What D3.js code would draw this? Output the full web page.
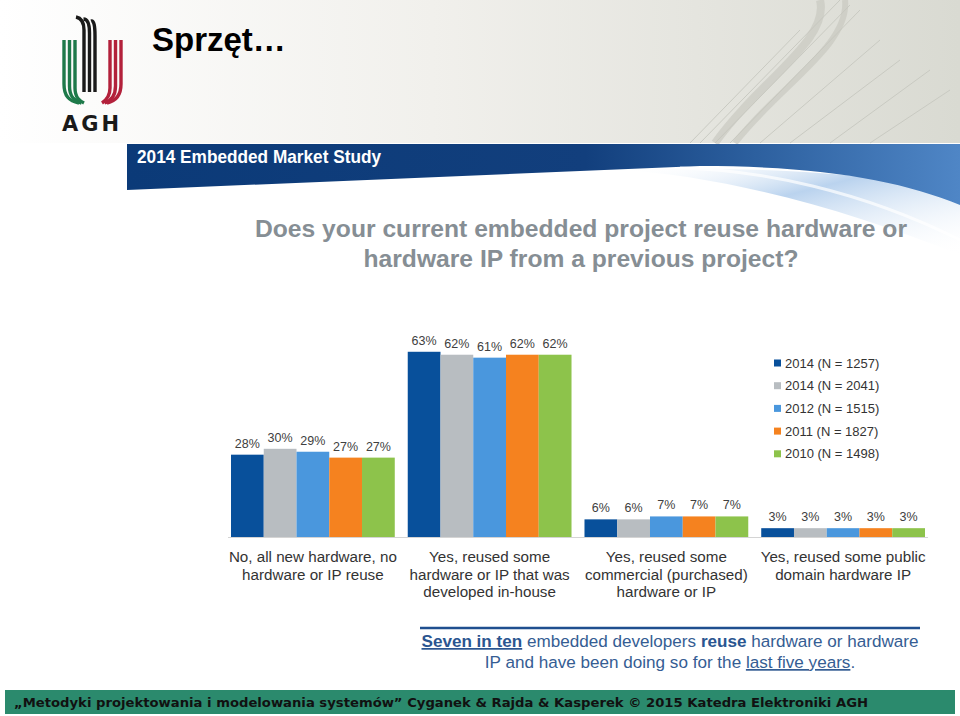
<!DOCTYPE html>
<html>
<head>
<meta charset="utf-8">
<script src="https://cdn.jsdelivr.net/npm/d3@7"></script>
<style>
  html, body { margin: 0; padding: 0; background: #ffffff; }
  svg { display: block; }
</style>
</head>
<body>
<svg id="chart" width="960" height="716"></svg>
<script>
// ---------- DATA ----------
const categories = [
  "No, all new hardware, no|hardware or IP reuse",
  "Yes, reused some|hardware or IP that was|developed in-house",
  "Yes, reused some|commercial (purchased)|hardware or IP",
  "Yes, reused some public|domain hardware IP"
];
const seriesNames = ["2014 (N = 1257)", "2014 (N = 2041)", "2012 (N = 1515)", "2011 (N = 1827)", "2010 (N = 1498)"];
const seriesColors = ["#08509b", "#b8bdc1", "#4a97dd", "#f5821f", "#8dc34b"];
const values2014a = [28, 63, 6, 3];
const values2014b = [30, 62, 6, 3];
const values2012 = [29, 61, 7, 3];
const values2011 = [27, 62, 7, 3];
const values2010 = [27, 62, 7, 3];
const seriesValues = [values2014a, values2014b, values2012, values2011, values2010];

const slideTitle = "Sprzęt…";
const bannerTitle = "2014 Embedded Market Study";
const questionLines = ["Does your current embedded project reuse hardware or", "hardware IP from a previous project?"];
const footerText = "„Metodyki projektowania i modelowania systemów”  Cyganek & Rajda & Kasperek © 2015 Katedra Elektroniki AGH";

// ---------- SETUP ----------
const svg = d3.select("#chart");
const defs = svg.append("defs");

const gTop = defs.append("linearGradient").attr("id", "topGrad").attr("x1", 0).attr("x2", 1).attr("y1", 0).attr("y2", 0);
gTop.append("stop").attr("offset", "0%").attr("stop-color", "#ffffff");
gTop.append("stop").attr("offset", "45%").attr("stop-color", "#f1f0ec");
gTop.append("stop").attr("offset", "100%").attr("stop-color", "#d9dad2");

const gBand = defs.append("linearGradient").attr("id", "bandGrad").attr("x1", 0).attr("x2", 1).attr("y1", 0).attr("y2", 0);
gBand.append("stop").attr("offset", "0%").attr("stop-color", "#0b3a78");
gBand.append("stop").attr("offset", "55%").attr("stop-color", "#123f7d");
gBand.append("stop").attr("offset", "75%").attr("stop-color", "#2c5f9e");
gBand.append("stop").attr("offset", "100%").attr("stop-color", "#4f86c6");

const gSw = defs.append("linearGradient").attr("id", "swGrad").attr("x1", 0).attr("x2", 1).attr("y1", 0).attr("y2", 1);
gSw.append("stop").attr("offset", "0%").attr("stop-color", "#ffffff").attr("stop-opacity", 0);
gSw.append("stop").attr("offset", "40%").attr("stop-color", "#a9c8ea").attr("stop-opacity", 0.8);
gSw.append("stop").attr("offset", "100%").attr("stop-color", "#ffffff").attr("stop-opacity", 0);

svg.append("rect").attr("x", 0).attr("y", 0).attr("width", 960).attr("height", 716).attr("fill", "#ffffff");
svg.append("rect").attr("x", 0).attr("y", 0).attr("width", 960).attr("height", 143).attr("fill", "url(#topGrad)");

// faint decorative lines top-right
const deco = svg.append("g").attr("stroke", "#c9cac2").attr("fill", "none");
[[700,143,840,0],[715,143,850,5],[730,143,860,10],[760,143,880,40],[790,143,900,60],[830,143,930,70],[870,143,950,90],[690,143,800,30]].forEach(d => {
  deco.append("line").attr("x1", d[0]).attr("y1", d[1]).attr("x2", d[2]).attr("y2", d[3]).attr("stroke-width", 1);
});
deco.append("path").attr("d", "M715,143 C760,80 830,40 820,0").attr("stroke", "#c4c5bd").attr("stroke-width", 8).attr("opacity", 0.6);
deco.append("path").attr("d", "M735,143 C780,85 850,45 845,0").attr("stroke", "#c4c5bd").attr("stroke-width", 6).attr("opacity", 0.6);

// ---------- LOGO ----------
const logo = svg.append("g").attr("fill", "none").attr("stroke-width", 3.4).attr("stroke-linecap", "butt");
[64, 69.5, 75].forEach((x, i) => {
  logo.append("path").attr("d", `M${x},40 V${84 + i*2} C${x},${96 + i} ${x+5},${101} ${x + 15 - i*3},${103}`).attr("stroke", "#1e7a4a");
});
[110, 115.5, 121].forEach((x, i) => {
  logo.append("path").attr("d", `M${x},40 V${88 - i*2} C${x},${97 - i} ${x-5},${101} ${x - 8 - i*3},${103}`).attr("stroke", "#b3213b");
});
[84, 89.5, 95].forEach((x, i) => {
  logo.append("path").attr("d", `M${x},92 V${30 + i*3} C${x},${22 + i*2} ${x-3 + i},${18 + i} ${x-8 + i*2},${17 + i*2}`).attr("stroke", "#1a1a1a");
});
svg.append("text").attr("x", 92).attr("y", 131).attr("text-anchor", "middle")
  .attr("font-family", "'DejaVu Sans', Verdana, sans-serif").attr("font-weight", "bold").attr("font-size", 21)
  .attr("letter-spacing", 3).attr("fill", "#1a1a1a").text("AGH");

svg.append("text").attr("x", 152).attr("y", 51)
  .attr("font-family", "'Liberation Sans', Arial, sans-serif").attr("font-weight", "bold").attr("font-size", 33)
  .attr("fill", "#000").text(slideTitle);

// ---------- BANNER ----------
svg.append("path").attr("d", "M620,170 C720,175 850,210 960,255 L960,190 C880,175 760,165 620,170 Z").attr("fill", "url(#swGrad)");
svg.append("path").attr("d", "M127,144 H960 V205 C900,180 820,166 700,166 L127,190 Z").attr("fill", "url(#bandGrad)");
svg.append("path").attr("d", "M680,168 C760,170 860,190 960,240").attr("stroke", "#ffffff").attr("stroke-width", 3).attr("fill", "none").attr("opacity", 0.7);
svg.append("text").attr("x", 137).attr("y", 163)
  .attr("font-family", "'Liberation Sans Narrow', 'Arial Narrow', 'Liberation Sans', sans-serif").attr("font-weight", "bold").attr("font-size", 18.5)
  .attr("textLength", 244).attr("lengthAdjust", "spacingAndGlyphs")
  .attr("fill", "#ffffff").text(bannerTitle);

// question
const qLens = [652, 435];
svg.selectAll("text.q").data(questionLines).enter().append("text").attr("class", "q")
  .attr("x", 581).attr("y", (d, i) => 237 + i * 30).attr("text-anchor", "middle")
  .attr("font-family", "'Liberation Sans', Arial, sans-serif").attr("font-weight", "bold").attr("font-size", 24)
  .attr("textLength", (d, i) => qLens[i]).attr("lengthAdjust", "spacingAndGlyphs")
  .attr("fill", "#868e94").text(d => d);

// ---------- CHART ----------
const x0 = d3.scaleBand().domain(categories).range([231, 925]).paddingInner(0.0734).paddingOuter(0);
const x1 = d3.scaleBand().domain(seriesNames).range([0, x0.bandwidth()]).padding(0);
const y = d3.scaleLinear().domain([0, 100]).range([537, 243]);

const axisG = svg.append("g").attr("transform", `translate(0,${y(0) + 0.5})`)
  .call(d3.axisBottom(x0).tickSize(0).tickFormat("").tickSizeOuter(0));
axisG.select(".domain").attr("stroke", "#d4d4d4").attr("stroke-width", 1).attr("d", "M228,0H928");

const groups = svg.append("g").selectAll("g").data(categories).enter().append("g")
  .attr("transform", d => `translate(${x0(d)},0)`);

groups.selectAll("rect").data((c, ci) => seriesNames.map((s, si) => ({ s, si, v: seriesValues[si][ci] })))
  .enter().append("rect")
  .attr("x", d => x1(d.s)).attr("width", x1.bandwidth())
  .attr("y", d => y(d.v)).attr("height", d => y(0) - y(d.v))
  .attr("fill", d => seriesColors[d.si]);

groups.selectAll("text.val").data((c, ci) => seriesNames.map((s, si) => ({ s, si, v: seriesValues[si][ci] })))
  .enter().append("text").attr("class", "val")
  .attr("x", d => x1(d.s) + x1.bandwidth() / 2).attr("y", d => y(d.v) - 7)
  .attr("text-anchor", "middle")
  .attr("font-family", "'Liberation Sans', Arial, sans-serif").attr("font-size", 12.5)
  .attr("fill", "#404040").text(d => d.v + "%");

const catG = svg.append("g");
categories.forEach(c => {
  const t = catG.append("text").attr("text-anchor", "middle")
    .attr("font-family", "'Liberation Sans', Arial, sans-serif").attr("font-size", 15.2).attr("fill", "#333");
  c.split("|").forEach((line, i) => {
    t.append("tspan").attr("x", x0(c) + x0.bandwidth() / 2).attr("y", 562 + i * 17.5).text(line);
  });
});

const legend = svg.append("g");
seriesNames.forEach((s, i) => {
  const yy = 363 + i * 22.7;
  legend.append("rect").attr("x", 774).attr("y", yy - 3.5).attr("width", 7).attr("height", 7).attr("fill", seriesColors[i]);
  legend.append("text").attr("x", 785).attr("y", yy + 4.5)
    .attr("font-family", "'Liberation Sans', Arial, sans-serif").attr("font-size", 13).attr("fill", "#333").text(s);
});

// ---------- CONCLUSION ----------
svg.append("line").attr("x1", 420).attr("x2", 920).attr("y1", 628).attr("y2", 628).attr("stroke", "#1f4f8f").attr("stroke-width", 2.5);
const c1 = svg.append("text").attr("x", 670).attr("y", 647).attr("text-anchor", "middle")
  .attr("font-family", "'Liberation Sans', Arial, sans-serif").attr("font-size", 17.1).attr("fill", "#355d93");
c1.append("tspan").attr("font-weight", "bold").attr("text-decoration", "underline").attr("fill", "#2a5590").text("Seven in ten");
c1.append("tspan").text(" embedded developers ");
c1.append("tspan").attr("font-weight", "bold").attr("fill", "#2a5590").text("reuse");
c1.append("tspan").text(" hardware or hardware");
const c2 = svg.append("text").attr("x", 670).attr("y", 668).attr("text-anchor", "middle")
  .attr("font-family", "'Liberation Sans', Arial, sans-serif").attr("font-size", 17.1).attr("fill", "#355d93");
c2.append("tspan").text("IP and have been doing so for the ");
c2.append("tspan").attr("text-decoration", "underline").text("last five years");
c2.append("tspan").text(".");

// ---------- FOOTER ----------
svg.append("rect").attr("x", 5).attr("y", 690).attr("width", 950).attr("height", 24).attr("fill", "#2b8a6d");
svg.append("text").attr("x", 14).attr("y", 707)
  .attr("font-family", "'DejaVu Sans', Verdana, sans-serif").attr("font-weight", "bold").attr("font-size", 12.5)
  .attr("textLength", 854).attr("lengthAdjust", "spacingAndGlyphs")
  .attr("fill", "#111").text(footerText);
</script>
</body>
</html>
